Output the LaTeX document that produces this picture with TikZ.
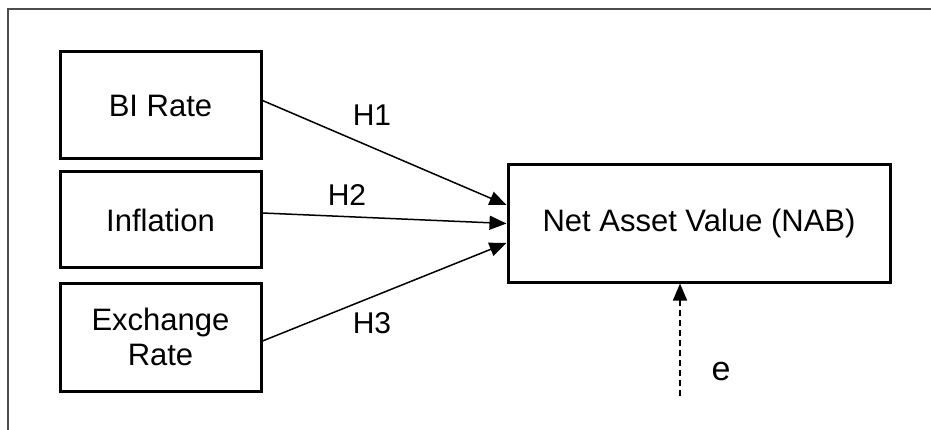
\documentclass[tikz,border=0pt]{standalone}
\usepackage{fontspec}
\setmainfont{Liberation Sans}
\usepackage{tikz}
\usetikzlibrary{arrows.meta, positioning, calc}

\begin{document}
\begin{tikzpicture}[
    x=1pt, y=-1pt,
    box/.style={draw, line width=3pt, align=center, inner sep=0pt, font=\fontsize{31}{35}\selectfont},
    varbox/.style={box, minimum width=201pt},
    arr/.style={-{Triangle[length=17pt, width=14pt]}, line width=1.5pt},
    lbl/.style={font=\fontsize{30}{34}\selectfont},
]
\useasboundingbox (0,0) rectangle (931,430);

% Outer frame (only top and left edges visible)
\draw[line width=2pt, black!70] (8,430) -- (8,9) -- (931,9);

% Independent variables, stacked on the left
\node[varbox, minimum height=107pt] (birate) at (160.5,105.5) {BI Rate};
\node[varbox, minimum height=96pt] (inflation) at (160.5,220) {Inflation};
\node[varbox, minimum height=108pt] (exchange) at (160.5,337) {Exchange\\Rate};

% Dependent variable
\node[box, minimum width=382pt, minimum height=117pt] (nab) at (699,223.5) {Net Asset Value (NAB)};

% Hypothesis arrows
\draw[arr] ([yshift=5pt]birate.east) -- ([yshift=18.5pt]nab.west);
\draw[arr] ([yshift=7pt]inflation.east) -- (nab.west);
\draw[arr] ([yshift=-4pt]exchange.east) -- ([yshift=-19.5pt]nab.west);
\node[lbl] (h1) at (372,115) {H1};
\node[lbl] (h2) at (347,195) {H2};
\node[lbl] (h3) at (372,323) {H3};

% Error term
\coordinate (eroot) at (680,396);
\draw[arr, dashed, dash pattern=on 6pt off 4pt] (eroot) -- (eroot |- nab.south);
\node[lbl, font=\fontsize{34}{38}\selectfont] (err) at (721,372) {e};

\end{tikzpicture}
\end{document}
